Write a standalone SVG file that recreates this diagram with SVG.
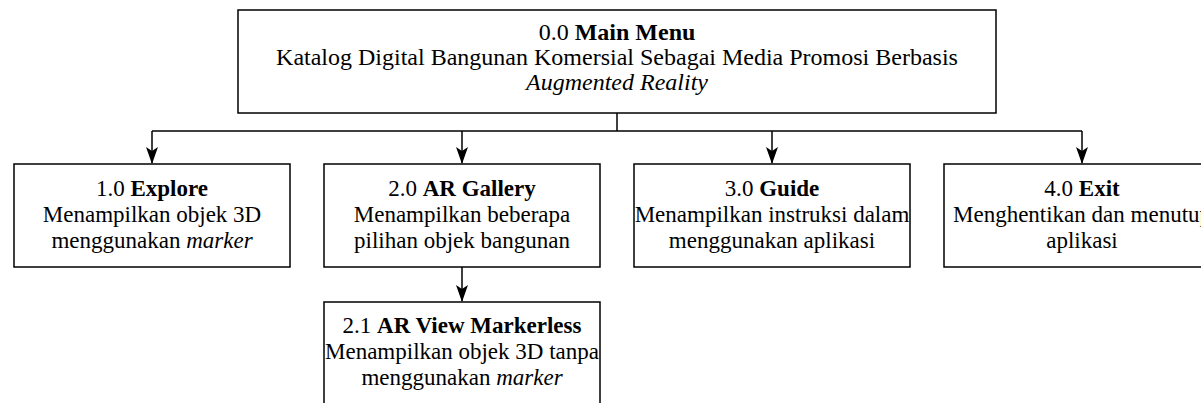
<svg xmlns="http://www.w3.org/2000/svg" width="1201" height="403" viewBox="0 0 1201 403">
<style>
.box{fill:#fff;stroke:#000;stroke-width:1.5}
.t{font-family:"Liberation Serif","Times New Roman",serif;font-size:23px;fill:#000;text-anchor:middle}
.m{font-size:24px}
.b{font-weight:bold}
.i{font-style:italic}
.c{fill:none;stroke:#000;stroke-width:1.5}
</style>
<rect width="1201" height="403" fill="#fff"/>
<g id="connectors">
<path class="c" d="M617,113 V131"/>
<path class="c" d="M152,131 H1082"/>
<path class="c" d="M152,131 V163"/>
<path class="c" d="M462,131 V163"/>
<path class="c" d="M772,131 V163"/>
<path class="c" d="M1082,131 V163"/>
<path class="c" d="M462,267 V301"/>
<path d="M146,147 L152,151 L158,147 L152,164 Z"/>
<path d="M456,147 L462,151 L468,147 L462,164 Z"/>
<path d="M766,147 L772,151 L778,147 L772,164 Z"/>
<path d="M1076,147 L1082,151 L1088,147 L1082,164 Z"/>
<path d="M456,285 L462,289 L468,285 L462,302 Z"/>
</g>
<g id="n0">
<rect class="box" x="238" y="10" width="758" height="103"/>
<text class="t m" x="617" y="40">0.0 <tspan class="b">Main Menu</tspan></text>
<text class="t m" x="617" y="65">Katalog Digital Bangunan Komersial Sebagai Media Promosi Berbasis</text>
<text class="t m" x="617" y="90"><tspan class="i">Augmented Reality</tspan></text>
</g>
<g id="n1">
<rect class="box" x="14" y="164" width="276" height="103"/>
<text class="t" x="152" y="196">1.0 <tspan class="b">Explore</tspan></text>
<text class="t" x="152" y="222">Menampilkan objek 3D</text>
<text class="t" x="152" y="248">menggunakan <tspan class="i">marker</tspan></text>
</g>
<g id="n2">
<rect class="box" x="324" y="164" width="276" height="103"/>
<text class="t" x="462" y="196">2.0 <tspan class="b">AR Gallery</tspan></text>
<text class="t" x="462" y="222">Menampilkan beberapa</text>
<text class="t" x="462" y="248">pilihan objek bangunan</text>
</g>
<g id="n3">
<rect class="box" x="634" y="164" width="276" height="103"/>
<text class="t" x="772" y="196">3.0 <tspan class="b">Guide</tspan></text>
<text class="t" x="772" y="222">Menampilkan instruksi dalam</text>
<text class="t" x="772" y="248">menggunakan aplikasi</text>
</g>
<g id="n4">
<rect class="box" x="944" y="164" width="276" height="103"/>
<text class="t" x="1082" y="196">4.0 <tspan class="b">Exit</tspan></text>
<text class="t" x="1082" y="222">Menghentikan dan menutup</text>
<text class="t" x="1082" y="248">aplikasi</text>
</g>
<g id="n21">
<rect class="box" x="324" y="302" width="276" height="110"/>
<text class="t" x="462" y="333">2.1 <tspan class="b">AR View Markerless</tspan></text>
<text class="t" x="462" y="359">Menampilkan objek 3D tanpa</text>
<text class="t" x="462" y="385">menggunakan <tspan class="i">marker</tspan></text>
</g>
</svg>
